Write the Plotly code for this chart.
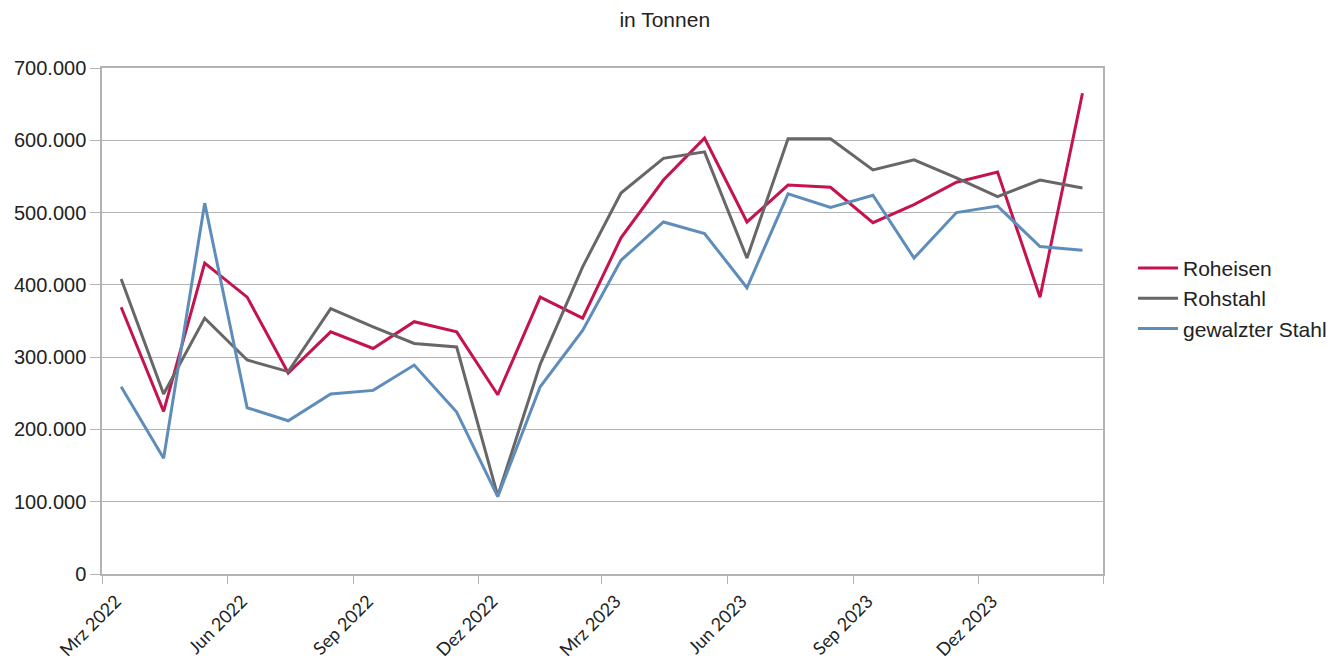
import pandas as pd
import plotly.graph_objects as go

# Monatswerte Mrz 2022 - Feb 2024 (Punkte jeweils Monatsmitte)
monate = pd.date_range("2022-03-01", periods=24, freq="MS") + pd.Timedelta(days=14)

roheisen = [369000, 225000, 430000, 383000, 278000, 335000, 312000, 349000,
            335000, 248000, 383000, 354000, 465000, 545000, 603000, 487000,
            538000, 535000, 486000, 511000, 542000, 556000, 383000, 665000]
rohstahl = [408000, 249000, 354000, 296000, 280000, 367000, 342000, 319000,
            314000, 108000, 290000, 425000, 527000, 575000, 584000, 437000,
            602000, 602000, 559000, 573000, 548000, 522000, 545000, 534000]
gewalzt = [259000, 160000, 513000, 230000, 212000, 249000, 254000, 289000,
           224000, 107000, 259000, 337000, 434000, 487000, 471000, 396000,
           526000, 507000, 524000, 437000, 500000, 509000, 453000, 448000]

tick_daten = ["2022-03-01", "2022-06-01", "2022-09-01", "2022-12-01",
              "2023-03-01", "2023-06-01", "2023-09-01", "2023-12-01", "2024-03-01"]
tick_texte = ["Mrz 2022", "Jun 2022", "Sep 2022", "Dez 2022",
              "Mrz 2023", "Jun 2023", "Sep 2023", "Dez 2023", ""]

serien = [("Roheisen", roheisen, "#c5134c"),
          ("Rohstahl", rohstahl, "#676767"),
          ("gewalzter Stahl", gewalzt, "#5f8dbb")]

fig = go.Figure()
for name, werte, farbe in serien:
    fig.add_trace(go.Scatter(x=monate, y=werte, name=name, mode="lines",
                             line=dict(color=farbe, width=3)))

# Seite hat 8px Body-Rand, daher Ränder entsprechend verschoben
fig.update_layout(
    width=1343, height=664,
    margin=dict(l=94, r=248, t=60, b=98, autoexpand=False),
    paper_bgcolor="white", plot_bgcolor="white",
    separators=",.",
    font=dict(family="Liberation Sans, Arial, sans-serif", color="#222222"),
    title=dict(text="in Tonnen", x=0.489, xref="container", xanchor="center",
               y=0.982, yref="container", yanchor="middle",
               font=dict(size=21, color="#222222")),
    legend=dict(x=1.03, y=0.545, yanchor="middle", font=dict(size=21),
                bgcolor="rgba(0,0,0,0)", tracegroupgap=0, itemwidth=40),
    showlegend=True,
)
fig.update_xaxes(
    type="date", range=["2022-03-01", "2024-03-01"], automargin=False,
    tickmode="array", tickvals=tick_daten, ticktext=tick_texte,
    tickangle=-45, ticks="outside", ticklen=8, tickcolor="#b3b3b3",
    ticklabelshift=14,
    showgrid=False, showline=True, linecolor="#b3b3b3", linewidth=1.5,
    mirror=True, tickfont=dict(family="Lato, Liberation Sans, sans-serif",
                               size=18, color="#222222"),
)
fig.update_yaxes(
    range=[0, 700000], dtick=100000, tickformat=",.0f", automargin=False,
    ticks="outside", ticklen=10, tickcolor="#b3b3b3",
    showgrid=True, gridcolor="#b3b3b3", gridwidth=1.2,
    showline=True, linecolor="#b3b3b3", linewidth=1.5, mirror=True,
    zeroline=False, tickfont=dict(size=20, color="#222222"),
)

fig.write_html("out.html")
